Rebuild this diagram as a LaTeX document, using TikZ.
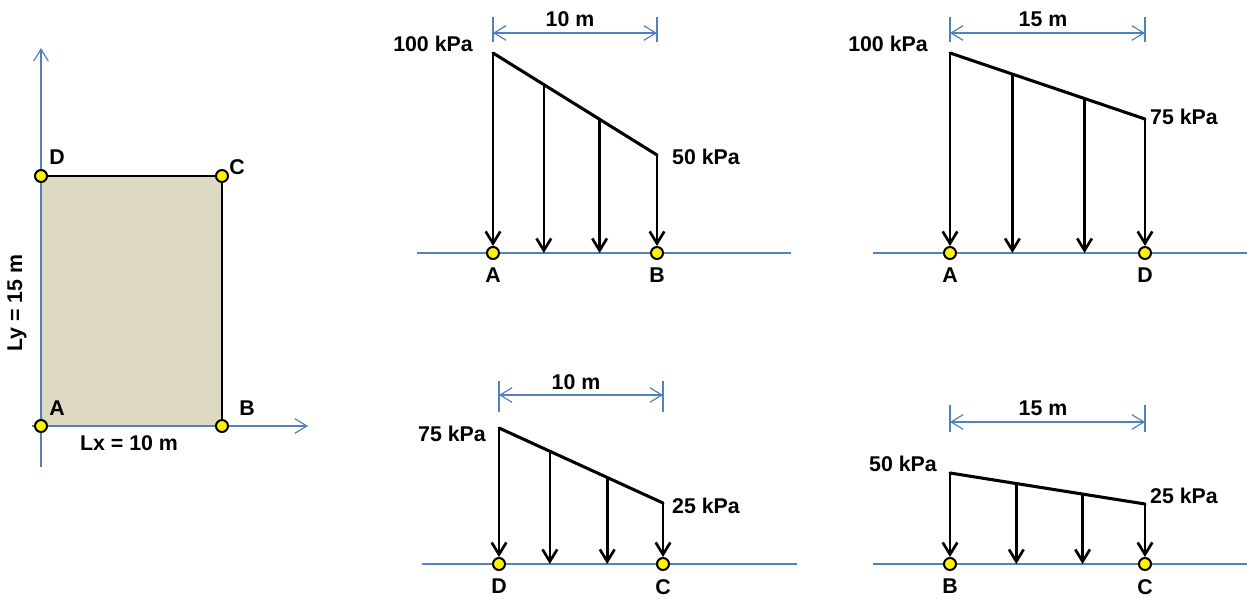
\documentclass[tikz,border=0pt]{standalone}
\usepackage{fontspec}
\setmainfont{Liberation Sans}
\usepackage{tikz}
\usetikzlibrary{arrows.meta,positioning,calc}
\definecolor{axisblue}{HTML}{4F81BD}
\definecolor{slab}{HTML}{DDD9C3}
\tikzset{
  lbl/.style={font=\bfseries\fontsize{16}{19}\selectfont, inner sep=0pt},
  pt/.style={circle, draw=black, fill=yellow, line width=1.5pt, inner sep=0pt, minimum size=9pt},
  axisline/.style={axisblue, line width=0.9pt, -{Straight Barb[length=9pt,width=11pt,line width=0.9pt]}},
  groundline/.style={axisblue, line width=1pt},
  dimline/.style={axisblue, line width=0.9pt, {Straight Barb[length=9pt,width=11pt,line width=0.9pt]}-{Straight Barb[length=9pt,width=11pt,line width=0.9pt]}},
  dimtick/.style={axisblue, line width=0.9pt},
  loadtop/.style={line width=2.3pt, line cap=round},
  load/.style={line width=2pt, -{Straight Barb[length=9pt,width=11pt,line width=2pt]}}
}
\begin{document}
\begin{tikzpicture}[x=0.75pt, y=-0.75pt]
\useasboundingbox (0,0) rectangle (1247,599);

% Plate in plan
\draw[fill=slab, line width=2pt] (41,426) rectangle (222,176);
\draw[axisline] (41,467) -- (41,48);
\draw[axisline] (32,426) -- (308,426);
\node[pt] (A) at (41,426) {};
\node[pt] (B) at (222,426) {};
\node[pt] (C) at (222,176) {};
\node[pt] (D) at (41,176) {};
\node[lbl] (labA) at (57,408) {A};
\node[lbl] (labB) at (247,408) {B};
\node[lbl] (labC) at (237,167) {C};
\node[lbl] (labD) at (57,157) {D};
\node[lbl] (lx) at (129,443) {Lx = 10 m};
\node[lbl, rotate=90] (ly) at (17,303) {Ly = 15 m};

% Edge A-B: 100 kPa to 50 kPa
\draw[groundline] (417,253) -- (791,253);
\node[pt] (ab1) at (493,253) {};
\node[pt] (ab2) at (657,253) {};
\coordinate (ab1t) at (493,53);
\coordinate (ab2t) at (657,155);
\coordinate (ab3t) at ($(ab1t)!0.31!(ab2t)$);
\coordinate (ab4t) at ($(ab1t)!0.65!(ab2t)$);
\draw[loadtop] (ab1t) -- (ab2t);
\draw[load] (ab1t) -- (ab1.north);
\draw[load] (ab3t) -- (ab3t |- ab1);
\draw[load] (ab4t) -- (ab4t |- ab1);
\draw[load] (ab2t) -- (ab2.north);
\node[lbl, below=6pt of ab1] (ab1l) {A};
\node[lbl, below=6pt of ab2] (ab2l) {B};
\node[lbl] (ab1q) at (433,44) {100 kPa};
\node[lbl] (ab2q) at (706,157) {50 kPa};
\draw[dimtick] (493,17) -- (493,42);
\draw[dimtick] (657,17) -- (657,42);
\draw[dimline] (493,33) -- (657,33);
\node[lbl] (abd) at (570,19) {10 m};

% Edge A-D: 100 kPa to 75 kPa
\draw[groundline] (873,253) -- (1247,253);
\node[pt] (ad1) at (950,253) {};
\node[pt] (ad2) at (1145,253) {};
\coordinate (ad1t) at (950,53);
\coordinate (ad2t) at (1145,119);
\coordinate (ad3t) at ($(ad1t)!0.32!(ad2t)$);
\coordinate (ad4t) at ($(ad1t)!0.69!(ad2t)$);
\draw[loadtop] (ad1t) -- (ad2t);
\draw[load] (ad1t) -- (ad1.north);
\draw[load] (ad3t) -- (ad3t |- ad1);
\draw[load] (ad4t) -- (ad4t |- ad1);
\draw[load] (ad2t) -- (ad2.north);
\node[lbl, below=6pt of ad1] (ad1l) {A};
\node[lbl, below=6pt of ad2] (ad2l) {D};
\node[lbl] (ad1q) at (888,44) {100 kPa};
\node[lbl] (ad2q) at (1184,117) {75 kPa};
\draw[dimtick] (950,17) -- (950,42);
\draw[dimtick] (1145,17) -- (1145,42);
\draw[dimline] (950,33) -- (1145,33);
\node[lbl] (add) at (1043,19) {15 m};

% Edge D-C: 75 kPa to 25 kPa
\draw[groundline] (422,564) -- (797,564);
\node[pt] (dc1) at (499,564) {};
\node[pt] (dc2) at (663,564) {};
\coordinate (dc1t) at (499,428);
\coordinate (dc2t) at (663,503);
\coordinate (dc3t) at ($(dc1t)!0.31!(dc2t)$);
\coordinate (dc4t) at ($(dc1t)!0.66!(dc2t)$);
\draw[loadtop] (dc1t) -- (dc2t);
\draw[load] (dc1t) -- (dc1.north);
\draw[load] (dc3t) -- (dc3t |- dc1);
\draw[load] (dc4t) -- (dc4t |- dc1);
\draw[load] (dc2t) -- (dc2.north);
\node[lbl, below=6pt of dc1] (dc1l) {D};
\node[lbl, below=6pt of dc2] (dc2l) {C};
\node[lbl] (dc1q) at (452,434) {75 kPa};
\node[lbl] (dc2q) at (706,506) {25 kPa};
\draw[dimtick] (499,381) -- (499,412);
\draw[dimtick] (663,381) -- (663,412);
\draw[dimline] (499,395) -- (663,395);
\node[lbl] (dcd) at (576,382) {10 m};

% Edge B-C: 50 kPa to 25 kPa
\draw[groundline] (873,564) -- (1247,564);
\node[pt] (bc1) at (950,564) {};
\node[pt] (bc2) at (1145,564) {};
\coordinate (bc1t) at (950,473);
\coordinate (bc2t) at (1145,504);
\coordinate (bc3t) at ($(bc1t)!0.34!(bc2t)$);
\coordinate (bc4t) at ($(bc1t)!0.68!(bc2t)$);
\draw[loadtop] (bc1t) -- (bc2t);
\draw[load] (bc1t) -- (bc1.north);
\draw[load] (bc3t) -- (bc3t |- bc1);
\draw[load] (bc4t) -- (bc4t |- bc1);
\draw[load] (bc2t) -- (bc2.north);
\node[lbl, below=6pt of bc1] (bc1l) {B};
\node[lbl, below=6pt of bc2] (bc2l) {C};
\node[lbl] (bc1q) at (903,464) {50 kPa};
\node[lbl] (bc2q) at (1184,496) {25 kPa};
\draw[dimtick] (950,405) -- (950,432);
\draw[dimtick] (1145,405) -- (1145,432);
\draw[dimline] (950,422) -- (1145,422);
\node[lbl] (bcd) at (1043,408) {15 m};
\end{tikzpicture}
\end{document}
